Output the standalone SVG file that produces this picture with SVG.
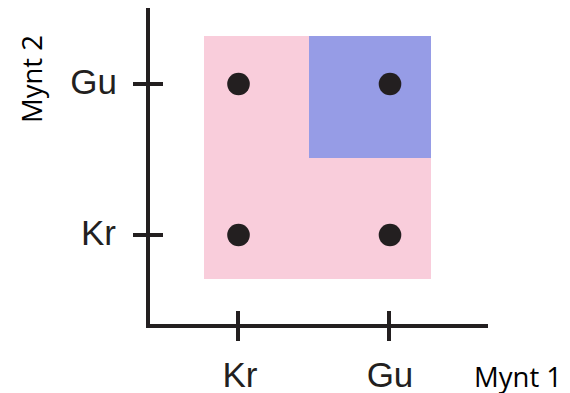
<svg xmlns="http://www.w3.org/2000/svg" width="570" height="393" viewBox="0 0 570 393">
<style>
.ax{stroke:#231f20;stroke-width:4;fill:none;stroke-linecap:butt}
.lbl{font-family:"Liberation Sans",Arial,sans-serif;font-size:35px;fill:#231f20}
.ttl{font-family:"Open Sans",sans-serif;font-size:27.5px;fill:#000}
.dot{fill:#231f20}
</style>
<rect width="570" height="393" fill="#fff"/>
<g id="regions">
<rect id="pink" x="204" y="36" width="227" height="243" fill="#f9cddb"/>
<rect id="blue" x="309" y="36" width="122" height="122" fill="#969ce6"/>
</g>
<g id="axes">
<path class="ax" d="M148 8 V328 M146 326 H488"/>
<path class="ax" d="M133 84 H163 M133 235 H163 M238 311 V341 M389 311 V341"/>
</g>
<g id="labels">
<text class="lbl" x="117" y="94" text-anchor="end">Gu</text>
<text class="lbl" x="116" y="245" text-anchor="end">Kr</text>
<text class="lbl" x="240" y="387" text-anchor="middle">Kr</text>
<text class="lbl" x="390" y="387" text-anchor="middle">Gu</text>
<text class="ttl" x="474" y="387">Mynt 1</text>
<text class="ttl" transform="translate(42 79) rotate(-90)" text-anchor="middle">Mynt 2</text>
</g>
<g id="points">
<circle class="dot" cx="238.5" cy="84" r="11.3"/>
<circle class="dot" cx="390" cy="84" r="11.3"/>
<circle class="dot" cx="238.5" cy="235" r="11.3"/>
<circle class="dot" cx="390" cy="235" r="11.3"/>
</g>
</svg>
